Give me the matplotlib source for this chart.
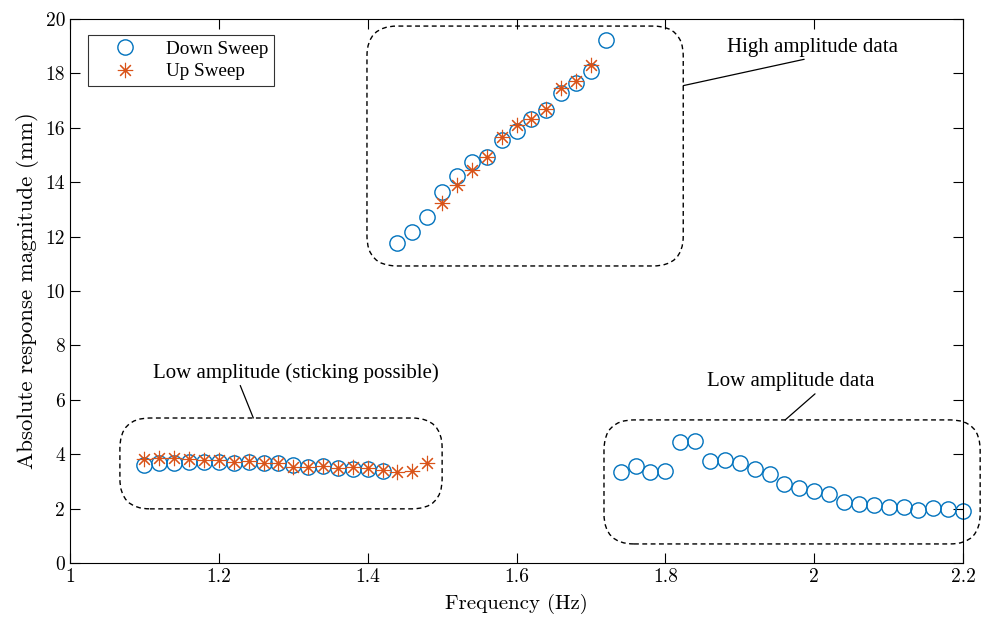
import matplotlib
matplotlib.use('Agg')
import matplotlib.pyplot as plt
import numpy as np
from matplotlib.patches import FancyBboxPatch

plt.rcParams['axes.formatter.use_mathtext'] = True

# down sweep, low-amplitude branch
f_down_lo = [1.10, 1.12, 1.14, 1.16, 1.18, 1.20, 1.22, 1.24, 1.26, 1.28,
             1.30, 1.32, 1.34, 1.36, 1.38, 1.40, 1.42]
a_down_lo = [3.62, 3.66, 3.66, 3.72, 3.72, 3.70, 3.66, 3.72, 3.66, 3.66,
             3.59, 3.54, 3.57, 3.48, 3.44, 3.47, 3.37]
# down sweep, high-amplitude branch
f_down_hi = [1.44, 1.46, 1.48, 1.50, 1.52, 1.54, 1.56, 1.58, 1.60, 1.62,
             1.64, 1.66, 1.68, 1.70, 1.72]
a_down_hi = [11.75, 12.18, 12.73, 13.64, 14.23, 14.75, 14.92, 15.55, 15.88,
             16.33, 16.65, 17.27, 17.66, 18.09, 19.23]
# down sweep, beyond resonance
f_down_rt = [1.74, 1.76, 1.78, 1.80, 1.82, 1.84, 1.86, 1.88, 1.90, 1.92,
             1.94, 1.96, 1.98, 2.00, 2.02, 2.04, 2.06, 2.08, 2.10, 2.12,
             2.14, 2.16, 2.18, 2.20]
a_down_rt = [3.36, 3.57, 3.33, 3.39, 4.45, 4.47, 3.76, 3.79, 3.69, 3.47,
             3.26, 2.90, 2.77, 2.66, 2.52, 2.24, 2.17, 2.12, 2.05, 2.05,
             1.95, 2.03, 1.97, 1.92]

# up sweep
f_up_lo = [1.10, 1.12, 1.14, 1.16, 1.18, 1.20, 1.22, 1.24, 1.26, 1.28,
           1.30, 1.32, 1.34, 1.36, 1.38, 1.40, 1.42, 1.44, 1.46, 1.48]
a_up_lo = [3.81, 3.85, 3.85, 3.81, 3.79, 3.79, 3.72, 3.75, 3.66, 3.66,
           3.54, 3.54, 3.57, 3.48, 3.52, 3.48, 3.42, 3.35, 3.39, 3.66]
f_up_hi = [1.50, 1.52, 1.54, 1.56, 1.58, 1.60, 1.62, 1.64, 1.66, 1.68, 1.70]
a_up_hi = [13.25, 13.90, 14.45, 14.94, 15.65, 16.09, 16.33, 16.68, 17.47,
           17.73, 18.31]

f_down = f_down_lo + f_down_hi + f_down_rt
a_down = a_down_lo + a_down_hi + a_down_rt
f_up = f_up_lo + f_up_hi
a_up = a_up_lo + a_up_hi

blue = '#0072BD'
orange = '#D95319'
txt_font = 'Liberation Serif'
cm_font = 'cmr10'

fig = plt.figure(figsize=(9.81, 6.27), dpi=100)
ax = fig.add_axes([0.0714, 0.1021, 0.9103, 0.8676])

ax.plot(f_down, a_down, linestyle='none', marker='o', markersize=11,
        markerfacecolor='none', markeredgecolor=blue, markeredgewidth=1.0,
        label='Down Sweep', clip_on=False)
ax.plot(f_up, a_up, linestyle='none', marker=(8, 2, 0), markersize=11,
        markeredgecolor=orange, markerfacecolor=orange, markeredgewidth=0.8,
        label='Up Sweep', clip_on=False)

ax.set_xlim(1, 2.2)
ax.set_ylim(0, 20)
ax.set_xticks(np.arange(1, 2.21, 0.2))
ax.set_yticks(np.arange(0, 21, 2))
ax.set_xticklabels(['1', '1.2', '1.4', '1.6', '1.8', '2', '2.2'])
ax.set_yticklabels([str(v) for v in range(0, 21, 2)])
ax.tick_params(direction='in', length=7, width=0.8, top=True, right=True,
               labelsize=14)
for lab in ax.get_xticklabels() + ax.get_yticklabels():
    lab.set_fontfamily(cm_font)
for sp in ax.spines.values():
    sp.set_linewidth(0.8)

ax.set_xlabel('Frequency (Hz)', fontfamily=cm_font, fontsize=15, labelpad=6)
ax.set_ylabel('Absolute response magnitude (mm)', fontfamily=cm_font,
              fontsize=16.5, labelpad=5)

leg = ax.legend(loc='upper left', bbox_to_anchor=(0.02, 0.9706),
                borderaxespad=0, fancybox=False, edgecolor='black',
                prop={'family': txt_font, 'size': 13.8}, handletextpad=0.45,
                borderpad=0.3, labelspacing=0.25, handlelength=3.3)
leg.get_frame().set_linewidth(0.8)

# rounded dashed boxes around each data group
fig.canvas.draw()
px_x = ax.transData.transform((1.1, 0))[0] - ax.transData.transform((1.0, 0))[0]
px_y = ax.transData.transform((0, 1))[1] - ax.transData.transform((0, 0))[1]
aspect = (px_x / 0.1) / px_y
r = 30 / (px_x / 0.1)

boxes = [(1.399, 10.92, 1.824, 19.74),
         (1.067, 1.99, 1.500, 5.33),
         (1.7175, 0.70, 2.223, 5.26)]
for x0, y0, x1, y1 in boxes:
    p = FancyBboxPatch((x0, y0), x1 - x0, y1 - y0,
                       boxstyle='round,pad=0,rounding_size=%f' % r,
                       mutation_aspect=aspect, fill=False, edgecolor='black',
                       linewidth=1.0, linestyle=(0, (3.5, 2.5)), clip_on=False)
    ax.add_patch(p)

# labels with leader lines
line_kw = dict(arrowstyle='-', color='black', lw=0.9, shrinkA=0, shrinkB=0)
ax.annotate('High amplitude data', xy=(1.824, 17.55), xytext=(1.998, 18.97),
            ha='center', va='center', fontfamily=txt_font, fontsize=15,
            arrowprops=dict(relpos=(0.55, 0.05), **line_kw))
ax.annotate('Low amplitude (sticking possible)', xy=(1.2463, 5.33),
            xytext=(1.304, 6.99), ha='center', va='center',
            fontfamily=txt_font, fontsize=15,
            arrowprops=dict(relpos=(0.30, 0.0), **line_kw))
ax.annotate('Low amplitude data', xy=(1.961, 5.26), xytext=(1.969, 6.67),
            ha='center', va='center', fontfamily=txt_font, fontsize=15,
            arrowprops=dict(relpos=(0.72, 0.45), **line_kw))

fig.savefig('out.png', dpi=100)
